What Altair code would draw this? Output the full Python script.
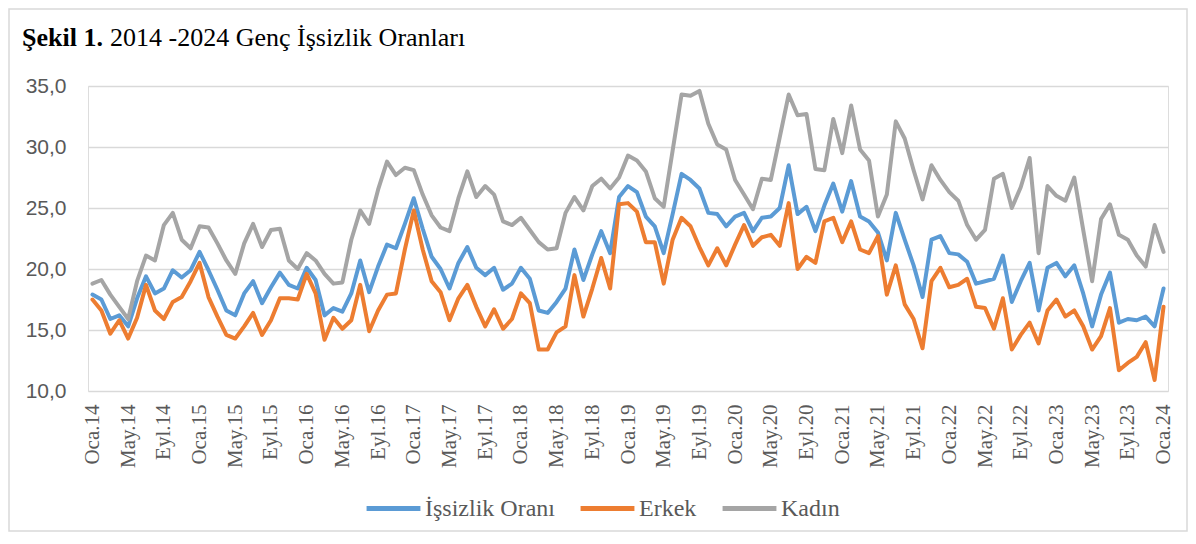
import altair as alt
import pandas as pd

# Turkish month abbreviations and years (Oca.14 .. Oca.24, monthly)
month_names = ["Oca", "Şub", "Mar", "Nis", "May", "Haz", "Tem", "Ağu", "Eyl", "Eki", "Kas", "Ara"]
years = ["14", "15", "16", "17", "18", "19", "20", "21", "22", "23", "24"]
months = [f"{m}.{y}" for y in years for m in month_names][:121]
shown_labels = months[::4]

series_names = ["İşsizlik Oranı", "Erkek", "Kadın"]
series_colors = ["#5B9BD5", "#ED7D31", "#A5A5A5"]

issizlik = [
    17.9, 17.5, 15.9, 16.2, 15.3, 17.6, 19.4, 18.0, 18.4, 19.9, 19.3, 19.9,
    21.4, 19.9, 18.3, 16.6, 16.2, 18.0, 19.0, 17.2, 18.5, 19.7, 18.7, 18.4,
    20.1, 19.1, 16.2, 16.8, 16.5, 18.0, 20.7, 18.1, 20.2, 22.0, 21.7, 23.7,
    25.8, 23.3, 21.0, 20.0, 18.4, 20.5, 21.8, 20.1, 19.5, 20.1, 18.3, 18.8,
    20.1, 19.2, 16.6, 16.4, 17.3, 18.4, 21.6, 19.1, 21.2, 23.1, 21.3, 25.9,
    26.8, 26.3, 24.3, 23.5, 21.3, 24.5, 27.8, 27.3, 26.6, 24.6, 24.5, 23.5,
    24.3, 24.6, 23.1, 24.2, 24.3, 25.0, 28.5, 24.5, 25.1, 23.1, 25.2, 27.0,
    24.7, 27.2, 24.3, 23.9, 23.0, 20.7, 24.6, 22.4, 20.3, 17.7, 22.4, 22.7,
    21.3, 21.2, 20.6, 18.8, 19.0, 19.2, 21.1, 17.3, 19.0, 20.5, 16.6, 20.1,
    20.5, 19.4, 20.3, 18.0, 15.3, 17.9, 19.7, 15.6, 15.9, 15.8, 16.1, 15.3,
    18.4,
]
erkek = [
    17.5, 16.6, 14.7, 15.8, 14.3, 16.0, 18.7, 16.6, 15.9, 17.3, 17.7, 19.0,
    20.5, 17.7, 16.1, 14.6, 14.3, 15.3, 16.4, 14.6, 15.8, 17.6, 17.6, 17.5,
    19.6, 18.0, 14.2, 16.0, 15.1, 15.8, 18.7, 14.9, 16.6, 17.9, 18.0, 21.6,
    24.8, 21.6, 19.0, 18.1, 15.8, 17.6, 18.7, 16.9, 15.3, 16.7, 15.1, 15.9,
    18.0, 17.2, 13.4, 13.4, 14.8, 15.3, 19.5, 16.1, 18.4, 20.9, 18.4, 25.3,
    25.4, 24.7, 22.2, 22.2, 18.8, 22.4, 24.2, 23.5, 21.8, 20.3, 21.7, 20.3,
    22.0, 23.6, 21.9, 22.6, 22.8, 21.9, 25.4, 20.0, 21.0, 20.5, 23.9, 24.2,
    22.2, 23.9, 21.6, 21.3, 22.7, 17.9, 20.3, 17.1, 15.9, 13.5, 19.0, 20.1,
    18.5, 18.7, 19.2, 16.9, 16.8, 15.1, 17.6, 13.4, 14.6, 15.6, 13.9, 16.6,
    17.5, 16.1, 16.6, 15.3, 13.4, 14.5, 16.8, 11.7, 12.3, 12.8, 14.0, 10.9,
    16.9,
]
kadin = [
    18.8, 19.1, 17.9, 16.9, 15.9, 19.0, 21.1, 20.7, 23.6, 24.6, 22.4, 21.7,
    23.5, 23.4, 22.1, 20.7, 19.6, 22.1, 23.7, 21.8, 23.2, 23.3, 20.7, 20.0,
    21.3, 20.7, 19.6, 18.8, 18.9, 22.4, 24.8, 23.7, 26.5, 28.8, 27.7, 28.3,
    28.1, 26.1, 24.4, 23.4, 23.1, 25.8, 28.0, 25.9, 26.8, 26.1, 23.9, 23.6,
    24.2, 23.2, 22.2, 21.6, 21.7, 24.6, 25.9, 24.8, 26.8, 27.4, 26.6, 27.5,
    29.3, 28.9, 28.0, 25.8, 25.1, 29.7, 34.3, 34.2, 34.6, 31.9, 30.2, 29.8,
    27.3, 26.1, 24.9, 27.4, 27.3, 30.8, 34.3, 32.6, 32.7, 28.2, 28.1, 32.3,
    29.5, 33.4, 29.8, 28.9, 24.3, 26.1, 32.1, 30.7, 28.1, 25.7, 28.5, 27.3,
    26.3, 25.6, 23.6, 22.4, 23.2, 27.4, 27.8, 25.0, 26.7, 29.1, 21.3, 26.8,
    26.0, 25.6, 27.5, 23.2, 19.0, 24.1, 25.3, 22.8, 22.4, 21.1, 20.2, 23.6,
    21.4,
]

title_bold = "Şekil 1."
title_rest = "2014 -2024 Genç İşsizlik Oranları"

rows = []
for name, vals in zip(series_names, [issizlik, erkek, kadin]):
    for m, v in zip(months, vals):
        rows.append({"Ay": m, "Seri": name, "Oran": v})
df = pd.DataFrame(rows)

W, H = 1080, 305

lines = alt.Chart(df).mark_line(strokeWidth=4, strokeJoin="round", strokeCap="round").encode(
    x=alt.X(
        "Ay:O",
        sort=months,
        scale=alt.Scale(type="point", padding=0.5),
        axis=alt.Axis(
            values=shown_labels, labelAngle=270, labelFont="Liberation Serif",
            labelFontSize=21, labelColor="#595959", labelPadding=13,
            ticks=False, domain=False, grid=False, title=None, labelOverlap=False,
        ),
    ),
    y=alt.Y(
        "Oran:Q",
        scale=alt.Scale(domain=[10, 35], nice=False, zero=False),
        axis=alt.Axis(
            values=[10, 15, 20, 25, 30, 35],
            labelExpr="replace(format(datum.value, '.1f'), '.', ',')",
            labelFont="Liberation Sans", labelFontSize=21, labelColor="#595959",
            labelPadding=22, ticks=False, domain=False, grid=True,
            gridColor="#D9D9D9", gridWidth=1.5, title=None,
        ),
    ),
    color=alt.Color(
        "Seri:N",
        sort=series_names,
        scale=alt.Scale(domain=series_names, range=series_colors),
        legend=alt.Legend(
            orient="none", legendX=276, legendY=393, direction="horizontal",
            title=None, symbolType="stroke", symbolSize=2900, symbolStrokeWidth=5,
            labelFont="Liberation Serif", labelFontSize=24, labelColor="#595959",
            labelOffset=2, columnPadding=15, padding=0, gridAlign="none",
        ),
    ),
    order=alt.Order("Seri:N"),
)

t1 = alt.Chart(pd.DataFrame({"t": [title_bold]})).mark_text(
    font="Liberation Serif", fontSize=26, fontWeight="bold", color="black",
    align="left", baseline="alphabetic",
).encode(text="t:N", x=alt.value(-66), y=alt.value(-40))

t2 = alt.Chart(pd.DataFrame({"t": [title_rest]})).mark_text(
    font="Liberation Serif", fontSize=26, color="black",
    align="left", baseline="alphabetic",
).encode(text="t:N", x=alt.value(22), y=alt.value(-40))

frame = alt.Chart(pd.DataFrame({"a": [0]})).mark_rect(
    fillOpacity=0, stroke="#D9D9D9", strokeWidth=1.5,
).encode(x=alt.value(-79), x2=alt.value(1099), y=alt.value(-77), y2=alt.value(445))

chart = alt.layer(frame, lines, t1, t2).properties(
    width=W, height=H,
    autosize=alt.AutoSizeParams(type="none"),
    padding={"left": 80, "top": 78, "right": 20, "bottom": 141},
).configure_view(stroke="transparent").configure(background="white")

chart.save("out.html", embed_options={"renderer": "svg", "actions": False})
